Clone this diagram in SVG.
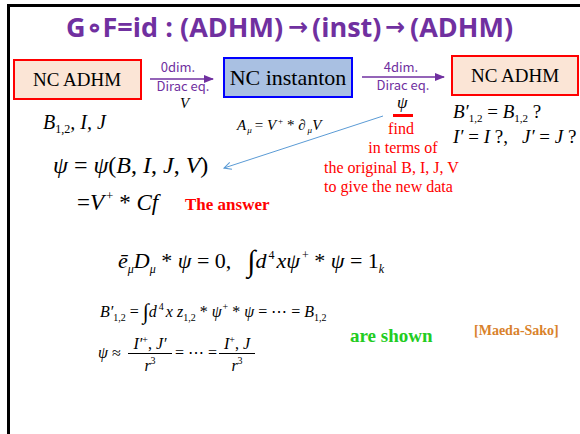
<svg xmlns="http://www.w3.org/2000/svg" width="580" height="434" viewBox="0 0 580 434">
<defs>
<style>
.m{font-family:"Liberation Serif",serif;font-style:italic;fill:#000}
.r{font-style:normal}
.lbl{font-family:"Noto Sans CJK JP","DejaVu Sans",sans-serif;font-size:13px;fill:#7030A0;text-anchor:middle}
.box{font-family:"Liberation Serif",serif;fill:#000;text-anchor:middle}
.red{font-family:"Liberation Serif",serif;font-size:16px;fill:#FF0000}
.t{font-family:"Open Sans","Liberation Sans",sans-serif;font-weight:bold;font-size:27px;fill:#7030A0}
.ta{font-family:"DejaVu Sans",sans-serif;font-weight:bold;font-size:24px;fill:#7030A0}
</style>
<marker id="pa" viewBox="0 0 10 10" refX="9" refY="5" markerWidth="7" markerHeight="7" orient="auto"><path d="M0,1 L10,5 L0,9 z" fill="#7030A0"/></marker>
<marker id="ba" viewBox="0 0 10 10" refX="9" refY="5" markerWidth="9" markerHeight="9" orient="auto"><path d="M1,1 L9,5 L1,9" fill="none" stroke="#5B9BD5" stroke-width="1.2"/></marker>
</defs>
<rect width="580" height="434" fill="#fff"/>
<rect x="8.5" y="5.5" width="580" height="440" fill="none" stroke="#000" stroke-width="3"/>
<g id="title">
<text x="66" y="37" class="t">G∘F=id :</text>
<text x="180" y="37" class="t">(ADHM)</text>
<text x="288" y="35" class="ta">→</text>
<text x="312" y="37" class="t">(inst)</text>
<text x="385" y="35" class="ta">→</text>
<text x="410" y="37" class="t">(ADHM)</text>
</g>

<g id="node-adhm1">
<rect x="14" y="60" width="127" height="39" fill="#FBE5D6" stroke="#FF0000" stroke-width="2"/>
<text x="77" y="86" class="box" font-size="19">NC ADHM</text>
</g>
<g id="node-inst">
<rect x="224" y="58" width="128" height="39" fill="#A9C0E2" stroke="#0000FF" stroke-width="2"/>
<text x="288" y="85" class="box" font-size="22">NC instanton</text>
</g>
<g id="node-adhm2">
<rect x="452" y="56" width="126" height="39" fill="#FBE5D6" stroke="#FF0000" stroke-width="2"/>
<text x="515" y="82" class="box" font-size="19">NC ADHM</text>
</g>

<g id="connectors">
<line x1="150" y1="79" x2="213" y2="79" stroke="#7030A0" stroke-width="1.5" marker-end="url(#pa)"/>
<line x1="362" y1="77" x2="444" y2="77" stroke="#7030A0" stroke-width="1.5" marker-end="url(#pa)"/>
<line x1="383" y1="116" x2="224" y2="168" stroke="#5B9BD5" stroke-width="1" marker-end="url(#ba)"/>
</g>

<g id="labels">
<text x="178" y="72" class="lbl">0dim.</text>
<text x="183" y="91" class="lbl">Dirac eq.</text>
<text x="180" y="108" class="m" font-size="15">V</text>
<text x="401" y="72" class="lbl">4dim.</text>
<text x="403" y="90" class="lbl">Dirac eq.</text>
<text x="397" y="108" class="m" font-size="17">ψ</text>
<rect x="393" y="114" width="20" height="3" fill="#FF0000"/>
<text x="401" y="134" class="red" text-anchor="middle">find</text>
<text x="403" y="153" class="red" text-anchor="middle">in terms of</text>
<text x="324" y="173" class="red">the original B, I, J, V</text>
<text x="324" y="192" class="red">to give the new data</text>
</g>

<text x="43" y="129" class="m" font-size="20">B<tspan class="r" font-size="12" dy="4">1,2</tspan><tspan dy="-4">, I, J</tspan></text>
<text x="237" y="130" class="m" font-size="15">A<tspan font-size="9" dx="1" dy="3">μ</tspan><tspan class="r" dx="3" dy="-3">= </tspan>V<tspan class="r" font-size="9" dx="2" dy="-6">+</tspan><tspan class="r" dy="6"> * </tspan>∂<tspan font-size="9" dx="2" dy="3">μ</tspan><tspan dy="-3">V</tspan></text>

<text x="453" y="118" class="m" font-size="19">B′<tspan class="r" font-size="11" dy="4">1,2</tspan><tspan class="r" dy="-4"> = </tspan>B<tspan class="r" font-size="11" dy="4">1,2</tspan><tspan class="r" dy="-4"> ?</tspan></text>
<text x="453" y="143" class="m" font-size="19">I′<tspan class="r"> = </tspan>I<tspan class="r"> ?,</tspan><tspan dx="14">J′</tspan><tspan class="r"> = </tspan>J<tspan class="r"> ?</tspan></text>

<text x="53" y="173" class="m" font-size="24">ψ<tspan class="r"> = </tspan>ψ<tspan class="r">(</tspan>B<tspan class="r">, </tspan>I<tspan class="r">, </tspan>J<tspan class="r">, </tspan>V<tspan class="r">)</tspan></text>
<text x="77" y="210" class="m" font-size="23"><tspan class="r">=</tspan>V<tspan class="r" font-size="13" dx="2" dy="-10">+</tspan><tspan class="r" dy="10"> * </tspan>Cf</text>
<text x="185" y="210" font-family="'Liberation Serif',serif" font-weight="bold" font-size="17" fill="#FF0000">The answer</text>

<text x="118" y="268" class="m" font-size="22"><tspan>ē</tspan><tspan font-size="12" dy="5">μ</tspan><tspan dy="-5">D</tspan><tspan font-size="12" dy="5">μ</tspan><tspan class="r" dy="-5"> * </tspan>ψ<tspan class="r"> = 0,</tspan><tspan class="r" font-size="30" dx="16" dy="3">∫</tspan><tspan dy="-3">d</tspan><tspan class="r" font-size="12" dx="2" dy="-9">4</tspan><tspan dx="2" dy="9">xψ</tspan><tspan class="r" font-size="12" dx="2" dy="-9">+</tspan><tspan class="r" dy="9"> * </tspan>ψ<tspan class="r"> = 1</tspan><tspan font-size="12" dy="5">k</tspan></text>

<text x="100" y="317" class="m" font-size="16">B′<tspan class="r" font-size="10" dy="4">1,2</tspan><tspan class="r" dy="-4"> = </tspan><tspan class="r" font-size="22" dy="2">∫</tspan><tspan dy="-2">d</tspan><tspan class="r" font-size="10" dx="2" dy="-7">4</tspan><tspan dx="2" dy="7">x z</tspan><tspan class="r" font-size="10" dy="4">1,2</tspan><tspan class="r" dy="-4"> * </tspan>ψ<tspan class="r" font-size="10" dx="1" dy="-7">+</tspan><tspan class="r" dy="7"> * </tspan>ψ<tspan class="r"> = ⋯ = </tspan>B<tspan class="r" font-size="10" dy="4">1,2</tspan></text>

<text x="98" y="358" class="m" font-size="16">ψ<tspan class="r"> ≈</tspan></text>
<text x="150" y="349" class="m" font-size="16" text-anchor="middle">I′<tspan class="r" font-size="10" dy="-6">+</tspan><tspan class="r" dy="6">, </tspan>J′</text>
<line x1="128" y1="353.5" x2="172" y2="353.5" stroke="#000" stroke-width="1"/>
<text x="150" y="371" class="m" font-size="16" text-anchor="middle">r<tspan class="r" font-size="10" dy="-7">3</tspan></text>
<text x="196" y="358" class="r" font-family="'Liberation Serif',serif" font-size="16" text-anchor="middle">= ⋯ =</text>
<text x="237" y="349" class="m" font-size="16" text-anchor="middle">I<tspan class="r" font-size="10" dy="-6">+</tspan><tspan class="r" dy="6">, </tspan>J</text>
<line x1="219" y1="353.5" x2="255" y2="353.5" stroke="#000" stroke-width="1"/>
<text x="237" y="371" class="m" font-size="16" text-anchor="middle">r<tspan class="r" font-size="10" dy="-7">3</tspan></text>

<text x="350" y="342" font-family="'Liberation Serif',serif" font-weight="bold" font-size="19" fill="#22CC22">are shown</text>
<text x="474" y="335" font-family="'Liberation Serif',serif" font-weight="bold" font-size="14" fill="#D9822B">[Maeda-Sako]</text>
</svg>
